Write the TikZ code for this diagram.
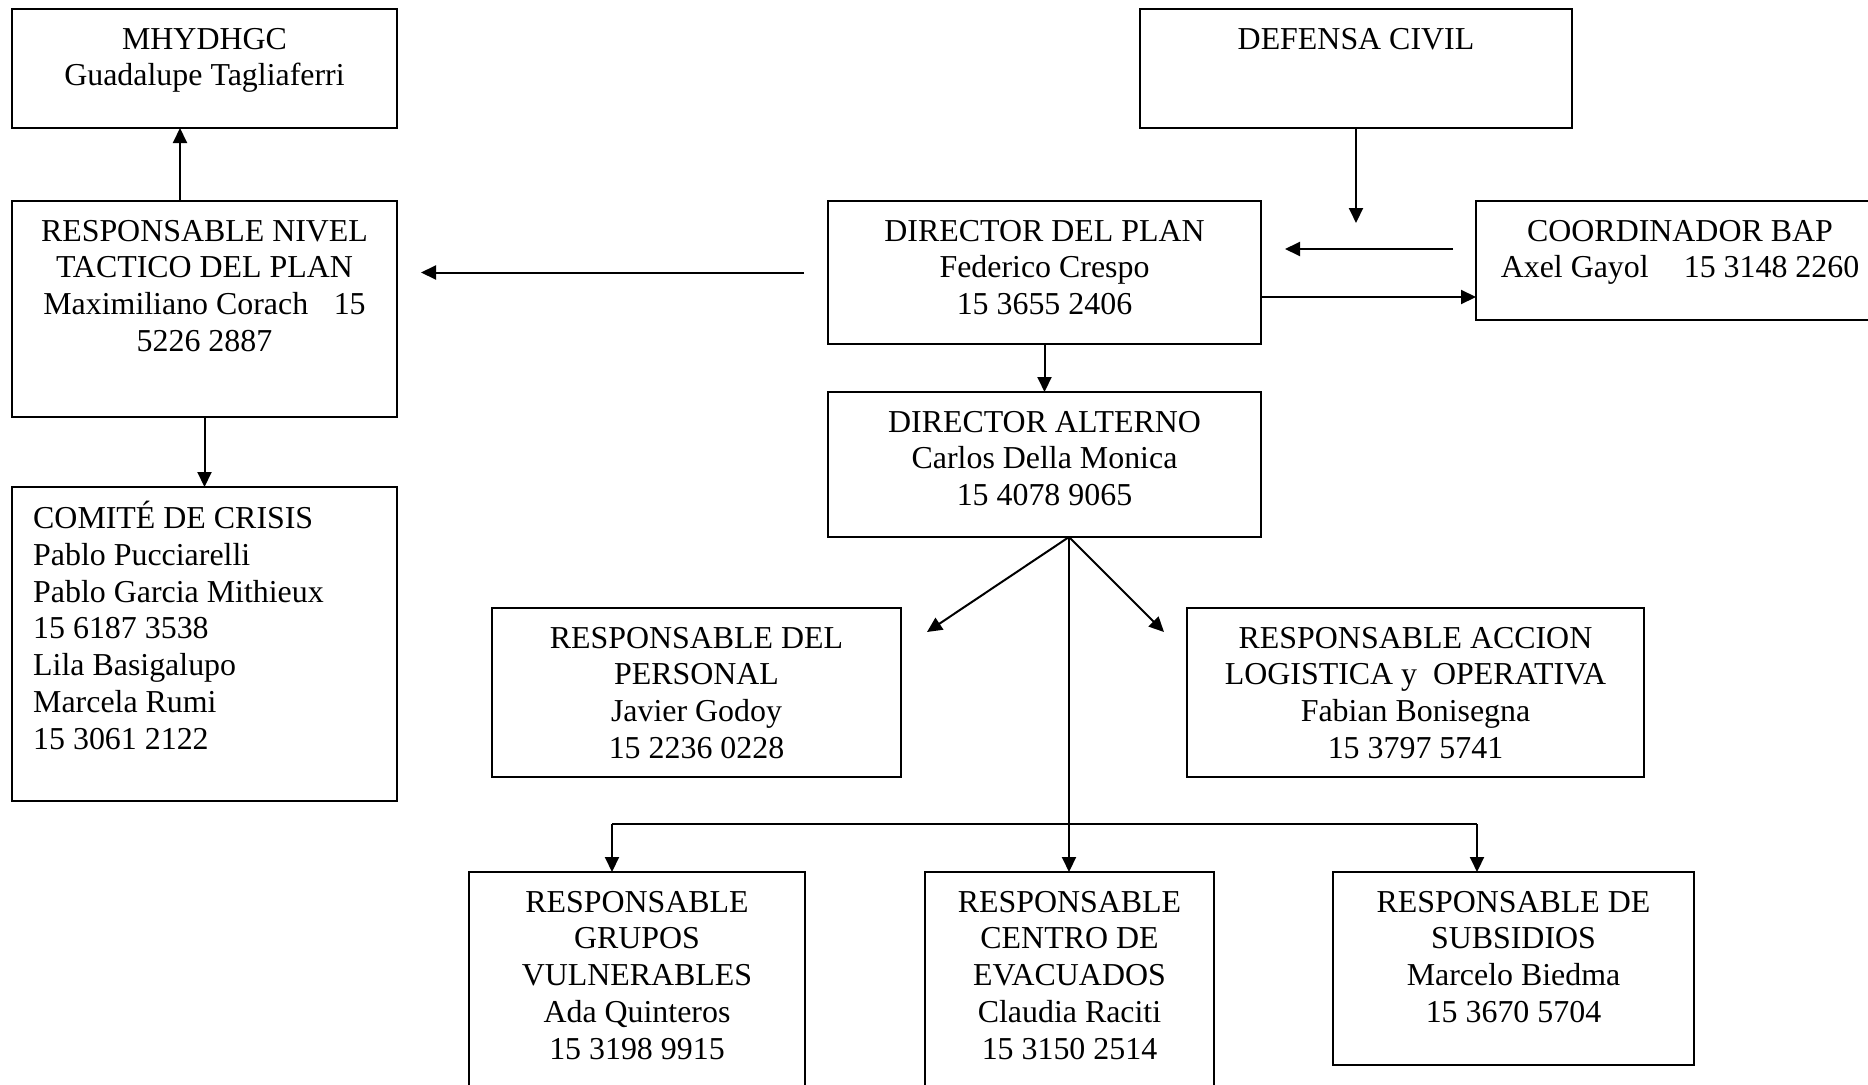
\documentclass[tikz,border=0pt]{standalone}
\usepackage{fontspec}
\setmainfont{Liberation Serif}
\usetikzlibrary{arrows.meta}
\begin{document}
\begin{tikzpicture}[x=1pt,y=-1pt,
  box/.style={draw,line width=1.6pt,inner sep=0pt,outer sep=0pt,rectangle},
  txt/.style={anchor=north,inner sep=0pt,align=center,font=\fontsize{31.9}{36.7}\selectfont},
  ltxt/.style={anchor=north west,inner sep=0pt,align=left,font=\fontsize{31.9}{36.7}\selectfont},
  conn/.style={line width=2pt},
  arr/.style={conn,-{Triangle[length=15pt,width=14pt]}}]
\useasboundingbox (0,0) rectangle (1868,1084);
\fill[white] (0,0) rectangle (1868,1084);
\clip (0,0) rectangle (1868,1084);

% boxes
\node[box,minimum width=385pt,minimum height=119pt] (mhy) at (204.5,68.5) {};
\node[box,minimum width=385pt,minimum height=216pt] (niv) at (204.5,309) {};
\node[box,minimum width=385pt,minimum height=314pt] (com) at (204.5,644) {};
\node[box,minimum width=432pt,minimum height=119pt] (def) at (1356,68.5) {};
\node[box,minimum width=433pt,minimum height=143pt] (dir) at (1044.5,272.5) {};
\node[box,minimum width=408pt,minimum height=119pt] (coo) at (1680,260.5) {};
\node[box,minimum width=433pt,minimum height=145pt] (alt) at (1044.5,464.5) {};
\node[box,minimum width=409pt,minimum height=169pt] (per) at (696.5,692.5) {};
\node[box,minimum width=457pt,minimum height=169pt] (acc) at (1415.5,692.5) {};
\node[box,minimum width=336pt,minimum height=240pt] (gru) at (637,992) {};
\node[box,minimum width=289pt,minimum height=240pt] (cen) at (1069.5,992) {};
\node[box,minimum width=361pt,minimum height=193pt] (sub) at (1513.5,968.5) {};

% texts
\node[txt] (tmhy) at ([yshift=-14.3pt]mhy.north) {\strut MHYDHGC\\Guadalupe Tagliaferri};
\node[txt] (tniv) at ([yshift=-14.3pt]niv.north) {\strut RESPONSABLE NIVEL\\TACTICO DEL PLAN\\Maximiliano Corach\hspace{0.8em}15\\5226 2887};
\node[ltxt] (tcom) at ([xshift=21pt,yshift=-14.3pt]com.north west) {\strut COMITÉ DE CRISIS\\Pablo Pucciarelli\\Pablo Garcia Mithieux\\15 6187 3538\\Lila Basigalupo\\Marcela Rumi\\15 3061 2122};
\node[txt] (tdef) at ([yshift=-14.3pt]def.north) {\strut DEFENSA CIVIL};
\node[txt] (tdir) at ([yshift=-14.3pt]dir.north) {\strut DIRECTOR DEL PLAN\\Federico Crespo\\15 3655 2406};
\node[txt] (tcoo) at ([yshift=-14.3pt]coo.north) {\strut COORDINADOR BAP\\Axel Gayol\hspace{1.1em}15 3148 2260};
\node[txt] (talt) at ([yshift=-14.3pt]alt.north) {\strut DIRECTOR ALTERNO\\Carlos Della Monica\\15 4078 9065};
\node[txt] (tper) at ([yshift=-14.3pt]per.north) {\strut RESPONSABLE DEL\\PERSONAL\\Javier Godoy\\15 2236 0228};
\node[txt] (tacc) at ([yshift=-14.3pt]acc.north) {\strut RESPONSABLE ACCION\\LOGISTICA y\hspace{0.5em}OPERATIVA\\Fabian Bonisegna\\15 3797 5741};
\node[txt] (tgru) at ([yshift=-14.3pt]gru.north) {\strut RESPONSABLE\\GRUPOS\\VULNERABLES\\Ada Quinteros\\15 3198 9915};
\node[txt] (tcen) at ([yshift=-14.3pt]cen.north) {\strut RESPONSABLE\\CENTRO DE\\EVACUADOS\\Claudia Raciti\\15 3150 2514};
\node[txt] (tsub) at ([yshift=-14.3pt]sub.north) {\strut RESPONSABLE DE\\SUBSIDIOS\\Marcelo Biedma\\15 3670 5704};

% helper coordinates
\coordinate (xa) at (180,0);
\coordinate (dtip) at (1356,223);
\coordinate (ca) at (1453,249);
\coordinate (cb) at (1261,297);
\coordinate (ao) at (1069,537);
\coordinate (pl) at (927,632);
\coordinate (pr) at (1164,632);
\coordinate (bl) at (612,824);
\coordinate (br) at (1477,824);

% connectors
\draw[arr] (niv.north -| xa) -- (mhy.south -| xa);
\draw[arr] (niv.south) -- (com.north);
\draw[arr] (def.south) -- (dtip);
\draw[arr,shorten <=24pt,shorten >=24pt] (dir.west) -- (dir.west -| niv.east);
\draw[arr,shorten >=24pt] (ca) -- (ca -| dir.east);
\draw[arr] (cb) -- (cb -| coo.west);
\draw[arr] (dir.south) -- (alt.north);
\draw[arr] (ao) -- (pl);
\draw[arr] (ao) -- (pr);
\draw[arr] (ao) -- (ao |- cen.north);
\draw[conn] (bl) -- (br);
\draw[arr] (bl) -- (bl |- gru.north);
\draw[arr] (br) -- (br |- sub.north);
\end{tikzpicture}
\end{document}
